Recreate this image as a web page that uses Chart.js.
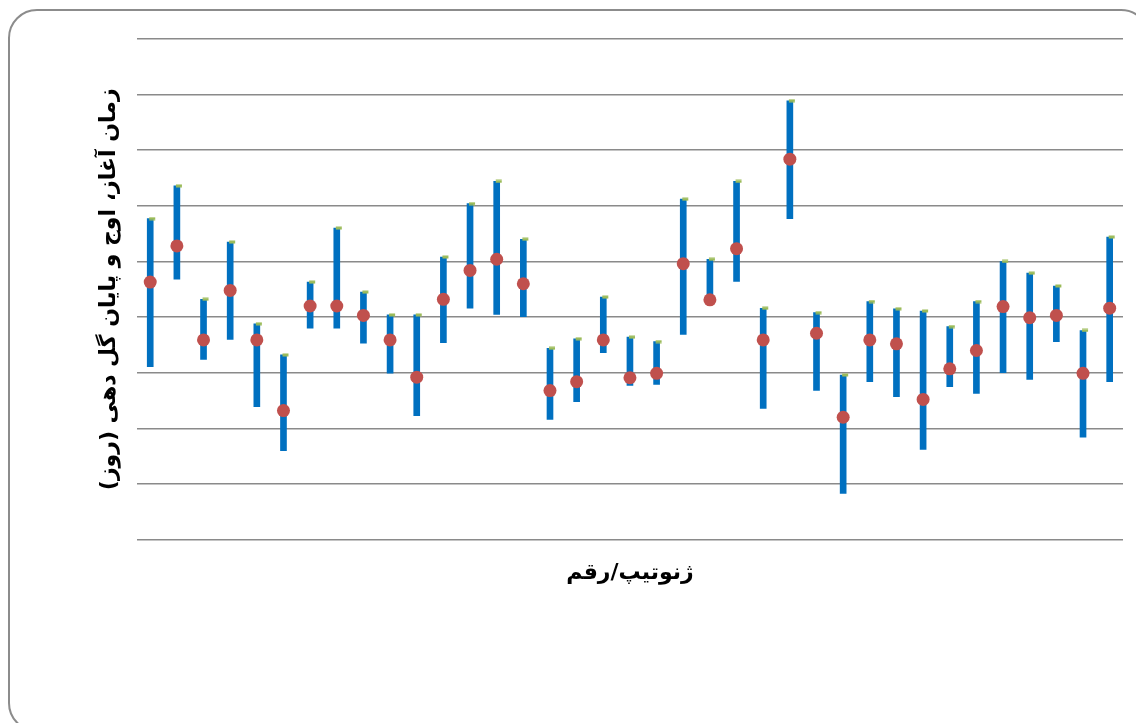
<!DOCTYPE html>
<html lang="fa">
<head>
    <meta charset="UTF-8">
    <title>Flowering time</title>
    <style>
        * {
            margin: 0;
            padding: 0;
            box-sizing: border-box;
        }
        body {
            background: #fff;
            width: 1136px;
            height: 723px;
            overflow: hidden;
        }
        #chart {
            display: block;
        }
    </style>
</head>
<body>
    <canvas id="chart" width="1136" height="723"></canvas>
    <script src="https://cdn.jsdelivr.net/npm/chart.js@4.4.1/dist/chart.umd.min.js"></script>
    <script>
        // genotypes / cultivars (no tick labels shown in the picture)
        const genotypes = ["1", "2", "3", "4", "5", "6", "7", "8", "9", "10",
            "11", "12", "13", "14", "15", "16", "17", "18", "19", "20",
            "21", "22", "23", "24", "25", "26", "27", "28", "29", "30",
            "31", "32", "33", "34", "35", "36", "37"];

        // start of flowering (bottom of bar)
        const startDay = [31.1, 46.8, 32.4, 36.0, 23.9, 16.0, 38.0, 38.0, 35.3, 29.9,
            22.3, 35.4, 41.6, 40.5, 40.1, 21.6, 24.8, 33.6, 27.7, 27.9,
            36.9, 43.1, 46.4, 23.6, 57.7, 26.8, 8.3, 28.4, 25.7, 16.2,
            27.5, 26.3, 30.0, 28.8, 35.6, 18.4, 28.4];

        // peak of flowering (red dot)
        const peakDay = [46.3, 52.8, 35.9, 44.8, 35.9, 23.2, 42.0, 42.0, 40.3, 35.9,
            29.2, 43.2, 48.4, 50.4, 46.0, 26.8, 28.4, 35.9, 29.1, 29.9,
            49.6, 43.1, 52.3, 35.9, 68.4, 37.1, 22.0, 35.9, 35.2, 25.2,
            30.7, 34.0, 41.9, 39.9, 40.3, 29.9, 41.6];

        // end of flowering (top of bar, green mark)
        const endDay = [57.7, 63.6, 43.2, 53.5, 38.8, 33.2, 46.3, 56.0, 44.5, 40.4,
            40.4, 50.8, 60.4, 64.4, 54.0, 34.4, 36.1, 43.6, 36.4, 35.6,
            61.2, 50.4, 64.4, 41.6, 78.9, 40.8, 29.6, 42.8, 41.5, 41.1,
            38.3, 42.8, 50.0, 47.9, 45.6, 37.6, 54.4];

        const yMin = 0, yMax = 90, yStep = 10;

        const ranges = startDay.map((s, i) => [s, endDay[i]]);

        // small green dash, nudged right of the bar like the original
        const endMark = document.createElement("canvas");
        endMark.width = 16;
        endMark.height = 4;
        const mctx = endMark.getContext("2d");
        mctx.fillStyle = "#9BBB59";
        mctx.fillRect(7, 0.5, 6, 3);

        // rounded frame around the whole chart
        const framePlugin = {
            id: "frame",
            beforeDraw(chart) {
                const ctx = chart.ctx;
                ctx.save();
                ctx.fillStyle = "#fff";
                ctx.fillRect(0, 0, chart.width, chart.height);
                ctx.beginPath();
                ctx.roundRect(9, 10, 1140, 721, 28);
                ctx.strokeStyle = "#8c8c8c";
                ctx.lineWidth = 2;
                ctx.stroke();
                ctx.restore();
            }
        };

        const titleFont = { family: "'DejaVu Sans', sans-serif", size: 22, weight: "bold" };

        new Chart(document.getElementById("chart"), {
            type: "bar",
            plugins: [framePlugin],
            data: {
                labels: genotypes,
                datasets: [
                    {
                        type: "line",
                        label: "peak",
                        data: peakDay,
                        showLine: false,
                        pointRadius: 6.5,
                        pointBackgroundColor: "#C0504D",
                        pointBorderWidth: 0,
                        order: 1,
                    },
                    {
                        type: "line",
                        label: "end",
                        data: endDay,
                        showLine: false,
                        pointStyle: endMark,
                        order: 2,
                    },
                    {
                        label: "range",
                        data: ranges,
                        backgroundColor: "#0070C0",
                        barThickness: 6,
                        borderWidth: 0,
                        borderSkipped: false,
                        order: 3,
                    },
                ],
            },
            options: {
                responsive: false,
                animation: false,
                layout: {
                    padding: { left: 90, right: 13, top: 39, bottom: 133 }
                },
                plugins: {
                    legend: { display: false },
                    tooltip: { enabled: false },
                },
                scales: {
                    x: {
                        offset: true,
                        grid: { display: false, drawTicks: false },
                        border: { display: false },
                        ticks: { display: false },
                        title: {
                            display: true,
                            text: "ژنوتیپ/رقم",
                            color: "#000",
                            font: titleFont,
                            padding: { top: 20, bottom: 4 },
                        },
                    },
                    y: {
                        min: yMin,
                        max: yMax,
                        ticks: { display: false, stepSize: yStep },
                        grid: { color: "#8a8a8a", lineWidth: 1.6, drawTicks: false },
                        border: { display: false },
                        title: {
                            display: true,
                            text: "زمان آغاز، اوج و پایان گل دهی (روز)",
                            color: "#000",
                            font: titleFont,
                            padding: { top: 6, bottom: 14.5 },
                        },
                    },
                },
            },
        });
    </script>
</body>
</html>
